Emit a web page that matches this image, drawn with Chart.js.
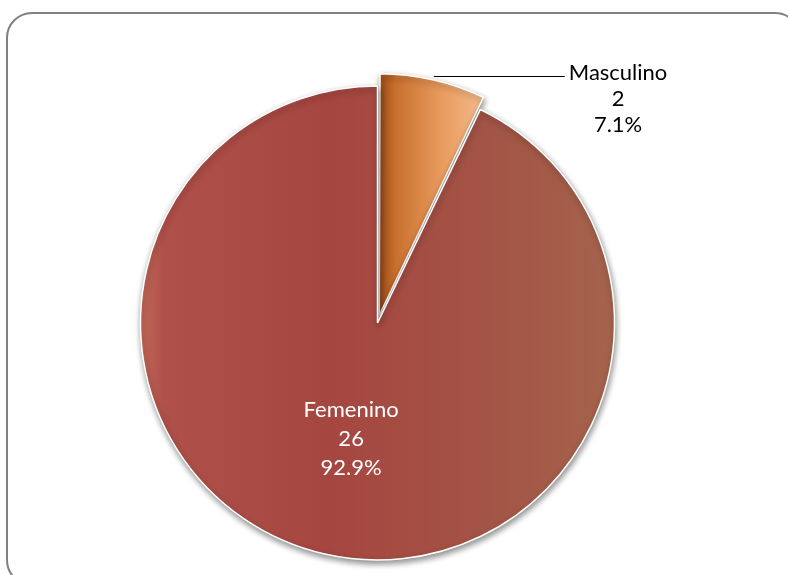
<!DOCTYPE html>
<html>
<head>
<meta charset="utf-8">
<script src="https://cdn.jsdelivr.net/npm/chart.js@4/dist/chart.umd.min.js"></script>
<style>
  html, body { margin: 0; padding: 0; background: #fff; overflow: hidden; }
  #wrap { position: relative; width: 788px; height: 575px; overflow: hidden; }
  #frame {
    position: absolute; left: 6px; top: 12px; width: 795px; height: 574px;
    border: 2px solid #808080; border-radius: 26px; box-sizing: border-box;
  }
  canvas { position: absolute; left: 0; top: 0; }
</style>
</head>
<body>
<div id="wrap">
  <div id="frame"></div>
  <canvas id="pie" width="788" height="575"></canvas>
</div>
<script>
// slice order follows the picture: Masculino starts at 12 o'clock
const categories = ['Masculino', 'Femenino'];
const counts = [2, 26];
// Chart.js v4 moves an arc by offset/4 and grows its radius by the same
const explode = [32, 0];

const total = counts.reduce((a, b) => a + b, 0);
const percents = counts.map(c => (c / total * 100).toFixed(1) + '%');

const PIE_R = 237;
const FONT = '22px Lato, "Liberation Sans", sans-serif';

function sliceFill(c) {
  const chart = c.chart;
  const area = chart.chartArea;
  if (!area) return c.dataIndex === 0 ? '#E08A48' : '#A84840';
  const cx = (area.left + area.right) / 2;
  if (c.dataIndex === 0) {
    const g2 = chart.ctx.createLinearGradient(cx + 4, 0, cx + 108, 0);
    g2.addColorStop(0, '#A9541C');
    g2.addColorStop(0.12, '#C9702E');
    g2.addColorStop(0.55, '#E89A5C');
    g2.addColorStop(1, '#F5BE90');
    return g2;
  }
  const g = chart.ctx.createLinearGradient(cx - PIE_R, 0, cx + PIE_R, 0);
  g.addColorStop(0, '#C26858');
  g.addColorStop(0.05, '#B0504A');
  g.addColorStop(0.4, '#A64640');
  g.addColorStop(0.75, '#A35546');
  g.addColorStop(1, '#A5634C');
  return g;
}

const shadowPlugin = {
  id: 'shadow',
  beforeDatasetsDraw(chart) {
    const ctx = chart.ctx;
    ctx.save();
    ctx.shadowColor = 'rgba(0,0,0,0.45)';
    ctx.shadowBlur = 6;
    ctx.shadowOffsetX = 1;
    ctx.shadowOffsetY = 3;
  },
  afterDatasetsDraw(chart) {
    chart.ctx.restore();
  }
};

const labelPlugin = {
  id: 'sliceLabels',
  afterDraw(chart) {
    const ctx = chart.ctx;
    const arcs = chart.getDatasetMeta(0).data;
    const lineH = 29;
    ctx.save();
    ctx.font = FONT;
    ctx.textAlign = 'center';
    ctx.textBaseline = 'middle';

    // Femenino: inside, white
    const fem = arcs[1];
    const p = fem.tooltipPosition();
    ctx.fillStyle = '#ffffff';
    [categories[1], String(counts[1]), percents[1]].forEach((t, i) => {
      ctx.fillText(t, p.x, p.y + (i - 1) * lineH);
    });

    // Masculino: outside with a leader line
    const m = arcs[0];
    const mid = (m.startAngle + m.endAngle) / 2;
    const dist = m.outerRadius + (m.options.offset || 0) / 2;
    const sx = m.x + Math.cos(mid) * dist;
    const sy = m.y + Math.sin(mid) * dist;
    const ex = sx + 131;
    ctx.strokeStyle = '#000';
    ctx.lineWidth = 1;
    ctx.beginPath();
    ctx.moveTo(sx, Math.round(sy) + 0.5);
    ctx.lineTo(ex, Math.round(sy) + 0.5);
    ctx.stroke();
    ctx.fillStyle = '#000';
    const w = ctx.measureText(categories[0]).width;
    const tx = ex + 4 + w / 2;
    [categories[0], String(counts[0]), percents[0]].forEach((t, i) => {
      ctx.fillText(t, tx, sy - 3 + i * 26);
    });
    ctx.restore();
  }
};

new Chart(document.getElementById('pie'), {
  type: 'pie',
  data: {
    labels: categories,
    datasets: [{
      data: counts,
      offset: explode,
      backgroundColor: sliceFill,
      borderColor: '#ffffff',
      borderWidth: 1.5
    }]
  },
  options: {
    responsive: false,
    animation: false,
    radius: PIE_R,
    layout: { padding: { left: 0, right: 33, top: 71, bottom: 0 } },
    plugins: {
      legend: { display: false },
      tooltip: { enabled: false }
    }
  },
  plugins: [shadowPlugin, labelPlugin]
});
</script>
</body>
</html>
